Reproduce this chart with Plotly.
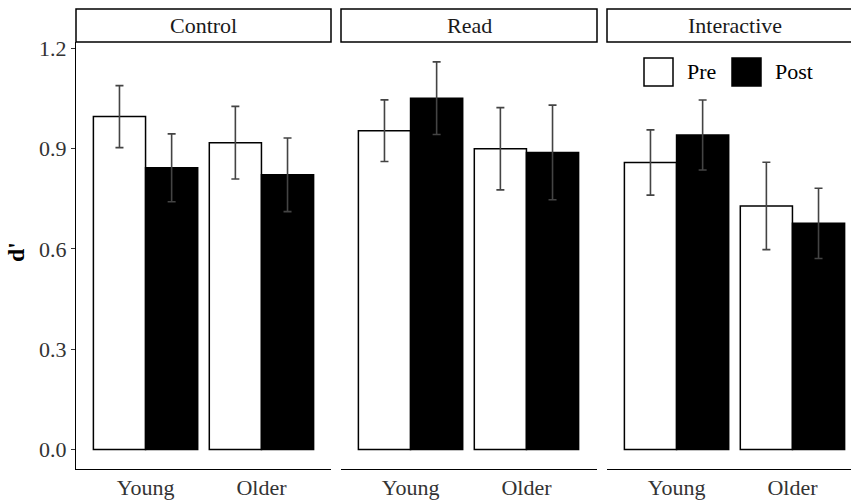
import plotly.graph_objects as go

conditions = ["Control", "Read", "Interactive"]
groups = ["Young", "Older"]
pre_mean = {"Control": [0.995, 0.917], "Read": [0.953, 0.899], "Interactive": [0.858, 0.728]}
pre_se = {"Control": [0.0925, 0.1085], "Read": [0.092, 0.123], "Interactive": [0.0975, 0.1305]}
post_mean = {"Control": [0.842, 0.821], "Read": [1.050, 0.888], "Interactive": [0.940, 0.676]}
post_se = {"Control": [0.1015, 0.110], "Read": [0.1085, 0.1415], "Interactive": [0.1045, 0.105]}
y_ticks = [0.0, 0.3, 0.6, 0.9, 1.2]

W, H = 851, 500
L, R, T, B = 76, 0, 42, 31
PW = W - L - R
PH = H - T - B
FONT = "Liberation Serif"
TXT = "#333333"
FS = 22

def px_x(px):
    return (px - L) / PW

def px_y(py):
    return (H - B - py) / PH

panels_px = [(76, 331), (341, 597), (607, 862)]
unit_px = (331 - 76) / 2.2

fig = go.Figure()
for i, cond in enumerate(conditions):
    ax = "" if i == 0 else str(i + 1)
    fig.add_trace(go.Bar(
        x=[1, 2], y=pre_mean[cond], name="Pre", showlegend=False,
        marker=dict(color="white", line=dict(color="black", width=1.5)),
        error_y=dict(type="data", array=pre_se[cond], color="#444444", thickness=1.6, width=4),
        xaxis="x" + ax, yaxis="y" + ax, offsetgroup="pre",
    ))
    fig.add_trace(go.Bar(
        x=[1, 2], y=post_mean[cond], name="Post", showlegend=False,
        marker=dict(color="black", line=dict(color="black", width=1.5)),
        error_y=dict(type="data", array=post_se[cond], color="#444444", thickness=1.6, width=4),
        xaxis="x" + ax, yaxis="y" + ax, offsetgroup="post",
    ))

layout = dict(
    width=W, height=H,
    margin=dict(l=L, r=R, t=T, b=B, autoexpand=False),
    paper_bgcolor="white", plot_bgcolor="white",
    barmode="group", bargap=0.1, bargroupgap=0.0,
    font=dict(family=FONT, size=FS, color=TXT),
    showlegend=False,
)

shapes = []
annotations = []
for i, cond in enumerate(conditions):
    x0, x1 = panels_px[i]
    d0 = px_x(x0)
    d1 = min(1.0, px_x(x1))
    vis_right = min(x1, W)
    rng_hi = 0.4 + (vis_right - x0) / unit_px
    key = "" if i == 0 else str(i + 1)
    layout["xaxis" + key] = dict(
        domain=[d0, d1], range=[0.4, rng_hi], anchor="y" + key,
        tickmode="array", tickvals=[1, 2], ticktext=groups,
        showline=True, linecolor="black", linewidth=1.3,
        ticks="", ticklabelstandoff=-2,
        showgrid=False, zeroline=False, automargin=False,
        tickfont=dict(family=FONT, size=FS, color=TXT), fixedrange=True,
    )
    ydict = dict(
        range=[-0.058, 1.218], anchor="x" + key, domain=[0, 1],
        showgrid=False, zeroline=False, automargin=False, fixedrange=True,
    )
    if i == 0:
        ydict.update(
            tickmode="array", tickvals=y_ticks, ticktext=[f"{v:.1f}" for v in y_ticks],
            showline=True, linecolor="black", linewidth=1.3,
            ticks="outside", ticklen=4, tickcolor="#333333", tickwidth=1.2,
            tickfont=dict(family=FONT, size=FS, color=TXT),
        )
    else:
        ydict.update(showticklabels=False, showline=False, ticks="")
    layout["yaxis" + key] = ydict

    # strip
    shapes.append(dict(
        type="rect", xref="paper", yref="paper",
        x0=px_x(x0), x1=px_x(x1), y0=px_y(42), y1=px_y(9),
        line=dict(color="black", width=1.5), fillcolor="white", layer="above",
    ))
    annotations.append(dict(
        text=cond, xref="paper", yref="paper",
        x=px_x((x0 + x1) / 2), y=px_y(26), xanchor="center", yanchor="middle",
        showarrow=False, font=dict(family=FONT, size=FS, color="#1a1a1a"),
    ))

# legend
shapes.append(dict(type="rect", xref="paper", yref="paper",
                   x0=px_x(644), x1=px_x(673), y0=px_y(86), y1=px_y(58),
                   line=dict(color="black", width=1.5), fillcolor="white"))
shapes.append(dict(type="rect", xref="paper", yref="paper",
                   x0=px_x(732), x1=px_x(761), y0=px_y(86), y1=px_y(58),
                   line=dict(color="black", width=1.5), fillcolor="black"))
annotations.append(dict(text="Pre", xref="paper", yref="paper", x=px_x(685), y=px_y(72),
                        xanchor="left", yanchor="middle", showarrow=False,
                        font=dict(family=FONT, size=FS, color="black")))
annotations.append(dict(text="Post", xref="paper", yref="paper", x=px_x(773), y=px_y(72),
                        xanchor="left", yanchor="middle", showarrow=False,
                        font=dict(family=FONT, size=FS, color="black")))
# y title
annotations.append(dict(text="<b>d'</b>", xref="paper", yref="paper", x=px_x(16), y=px_y(252),
                        xanchor="center", yanchor="middle", showarrow=False, textangle=-90,
                        font=dict(family=FONT, size=24, color="black")))

layout["shapes"] = shapes
layout["annotations"] = annotations
fig.update_layout(**layout)
fig.write_html("out.html")
